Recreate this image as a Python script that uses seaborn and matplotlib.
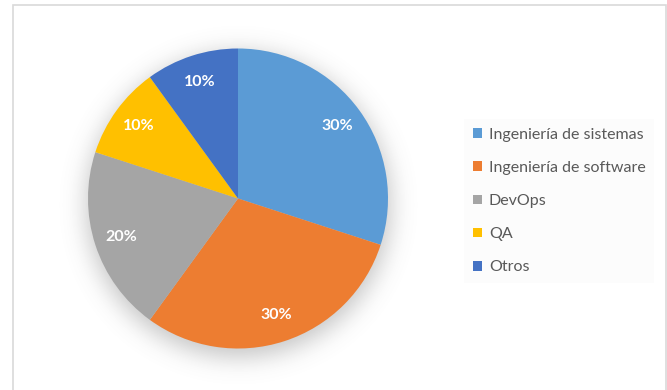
import numpy as np
import matplotlib
matplotlib.use("Agg")
import matplotlib.pyplot as plt
from matplotlib.patches import Rectangle
import seaborn as sns

# Distribution data
categories = ["Ingeniería de sistemas", "Ingeniería de software", "DevOps", "QA", "Otros"]
shares = [30, 30, 20, 10, 10]
colors = ["#5B9BD5", "#ED7D31", "#A5A5A5", "#FFC000", "#4472C4"]

sns.set_theme(style="white")
plt.rcParams["font.family"] = ["Lato", "DejaVu Sans"]

W, H = 667, 390
fig = plt.figure(figsize=(W / 100, H / 100), dpi=100)
ax = fig.add_axes([0, 0, 1, 1])

cx, cy, R = 238, 191.5, 150

# Soft drop shadow under the pie (blurred disc, shifted down)
xs = np.arange(0, W)
ys = np.arange(0, H)
X, Y = np.meshgrid(xs, ys)
disc = (((X - cx) ** 2 + (Y - (cy - 7)) ** 2) <= (R + 2) ** 2).astype(float)
sigma = 12
k = np.arange(-3 * sigma, 3 * sigma + 1)
kern = np.exp(-k ** 2 / (2 * sigma ** 2))
kern /= kern.sum()
blur = np.apply_along_axis(lambda r: np.convolve(r, kern, mode="same"), 1, disc)
blur = np.apply_along_axis(lambda c: np.convolve(c, kern, mode="same"), 0, blur)
shadow = np.zeros((H, W, 4))
shadow[..., :3] = 0.45
shadow[..., 3] = 0.42 * blur
ax.imshow(shadow, extent=(0, W, 0, H), origin="lower", zorder=1, interpolation="bilinear")

wedges, _, autotexts = ax.pie(
    shares,
    colors=colors,
    startangle=90,
    counterclock=False,
    center=(cx, cy),
    radius=R,
    autopct="%1.0f%%",
    pctdistance=0.82,
    wedgeprops=dict(linewidth=0, zorder=2),
    textprops=dict(color="white", fontsize=11.5, fontweight="bold"),
)
for t in autotexts:
    t.set_zorder(3)

ax.set_xlim(0, W)
ax.set_ylim(0, H)
ax.set_aspect("equal")
ax.axis("off")

# Chart area border
ax.add_patch(Rectangle((12.5, -5), 653, H - 4.5 + 5, fill=False,
                       edgecolor="#D9D9D9", linewidth=1.2, zorder=0))

leg = ax.legend(
    wedges, categories,
    loc="upper left",
    bbox_to_anchor=(464 / W, (H - 119) / H),
    bbox_transform=fig.transFigure,
    frameon=True,
    facecolor="#FCFCFC",
    edgecolor="none",
    fancybox=False,
    fontsize=11.5,
    handlelength=0.55,
    handleheight=0.55,
    handletextpad=0.45,
    labelspacing=1.2,
    borderpad=0.55,
    borderaxespad=0,
)
for t in leg.get_texts():
    t.set_color("#595959")

fig.savefig("out.png", dpi=100)
